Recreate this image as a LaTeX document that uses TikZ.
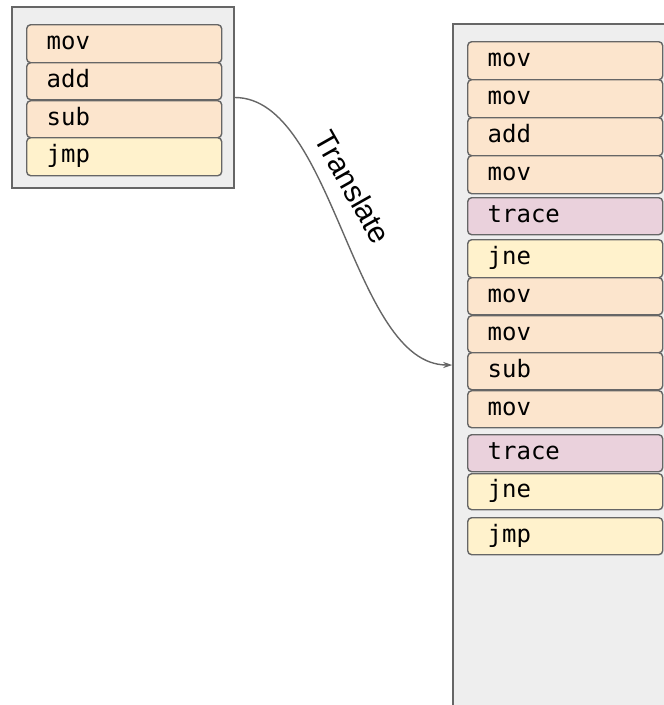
\documentclass[tikz,border=0pt]{standalone}
\usepackage{fontspec}
\setmainfont{Liberation Sans}
\newfontfamily\codefont{DejaVu Sans Mono}
\usetikzlibrary{arrows.meta}
\definecolor{peach}{HTML}{FCE5CD}
\definecolor{lyellow}{HTML}{FFF2CC}
\definecolor{lpink}{HTML}{EAD1DC}
\definecolor{boxbg}{HTML}{EEEEEE}
\definecolor{edge}{HTML}{666666}
\tikzset{
  container/.style={draw=edge, line width=1.5pt, fill=boxbg, inner sep=0pt},
  blk/.style={draw=edge, line width=1.4pt, rounded corners=4pt, anchor=north west,
    minimum width=195pt, text width=155pt, align=left, inner xsep=20pt, inner ysep=0pt,
    font=\codefont\fontsize{24}{26}\selectfont, text height=16pt, text depth=4pt},
  op/.style={blk, fill=peach},
  br/.style={blk, fill=lyellow},
  tr/.style={blk, fill=lpink},
  conn/.style={draw=edge, line width=1.4pt, -{Stealth[length=9pt,width=6pt]}},
}
\begin{document}
\begin{tikzpicture}[x=1pt,y=-1pt]
\useasboundingbox (0,0) rectangle (664,705);
% containers
\node[container, minimum width=222pt, minimum height=181pt] (src) at (123,97.5) {};
\node[container, minimum width=217pt, minimum height=682pt] (dst) at (561.5,365) {};
% source blocks
\node[op, minimum height=38pt] (s1) at (26,24) {mov};
\node[op, minimum height=37pt] (s2) at (26,62) {add};
\node[op, minimum height=37pt] (s3) at (26,100) {sub};
\node[br, minimum height=38pt] (s4) at (26,137) {jmp};
% translated blocks
\node[op, minimum height=38pt] (d1) at (467,41) {mov};
\node[op, minimum height=38pt] (d2) at (467,79) {mov};
\node[op, minimum height=38pt] (d3) at (467,117) {add};
\node[op, minimum height=38pt] (d4) at (467,155) {mov};
\node[tr, minimum height=37pt] (d5) at (467,197) {trace};
\node[br, minimum height=38pt] (d6) at (467,239) {jne};
\node[op, minimum height=37pt] (d7) at (467,277) {mov};
\node[op, minimum height=37pt] (d8) at (467,315) {mov};
\node[op, minimum height=37pt] (d9) at (467,352) {sub};
\node[op, minimum height=37pt] (d10) at (467,390) {mov};
\node[tr, minimum height=37pt] (d11) at (467,434) {trace};
\node[br, minimum height=36pt] (d12) at (467,473) {jne};
\node[br, minimum height=37pt] (d13) at (467,517) {jmp};
% connector
\draw[conn] (src.east) .. controls (334,97.5) and (352,365) .. (dst.west);
\node[font=\fontsize{30}{34}\selectfont, rotate=-60.5, inner sep=0pt] (lbl) at (353,187) {Translate};
\end{tikzpicture}
\end{document}
